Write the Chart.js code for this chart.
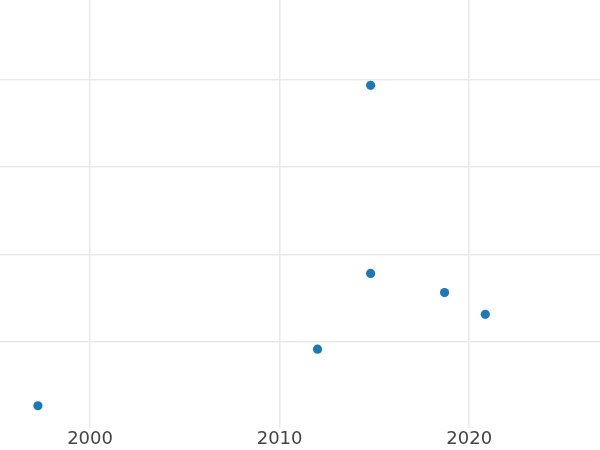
<!DOCTYPE html>
<html>
<head>
<meta charset="utf-8">
<script src="https://cdn.jsdelivr.net/npm/chart.js@4"></script>
<style>
html,body{margin:0;padding:0;background:#fff;}
#wrap{width:600px;height:450px;}
</style>
</head>
<body>
<div id="wrap"><canvas id="c" width="600" height="450"></canvas></div>
<script>
const years = [1997.25, 2012.0, 2014.8, 2014.8, 2018.7, 2020.85];
const values = [0.26, 0.91, 1.78, 3.94, 1.56, 1.31];
const xTicks = [2000, 2010, 2020];
const yTicks = [1, 2, 3, 4];

const points = years.map((x, i) => ({x: x, y: values[i]}));

new Chart(document.getElementById('c'), {
  type: 'scatter',
  data: {
    datasets: [{
      data: points,
      backgroundColor: '#1f77b4',
      borderColor: '#1f77b4',
      pointRadius: 4.6,
      pointHoverRadius: 4.6,
      borderWidth: 0
    }]
  },
  options: {
    responsive: false,
    animation: false,
    layout: {padding: 0, autoPadding: false},
    plugins: {legend: {display: false}, tooltip: {enabled: false}},
    scales: {
      x: {
        type: 'linear',
        min: 1995.25,
        max: 2026.9,
        afterBuildTicks: s => { s.ticks = xTicks.map(v => ({value: v})); },
        ticks: {
          callback: v => String(v),
          color: '#444',
          font: {family: 'DejaVu Sans', size: 18},
          padding: 0,
          maxRotation: 0
        },
        grid: {color: '#e9e9e9', lineWidth: 1.5, drawTicks: false},
        border: {display: false}
      },
      y: {
        type: 'linear',
        min: 0,
        max: 4.92,
        afterBuildTicks: s => { s.ticks = yTicks.map(v => ({value: v})); },
        ticks: {display: false},
        grid: {color: '#e9e9e9', lineWidth: 1.5, drawTicks: false},
        border: {display: false}
      }
    }
  }
});
</script>
</body>
</html>
